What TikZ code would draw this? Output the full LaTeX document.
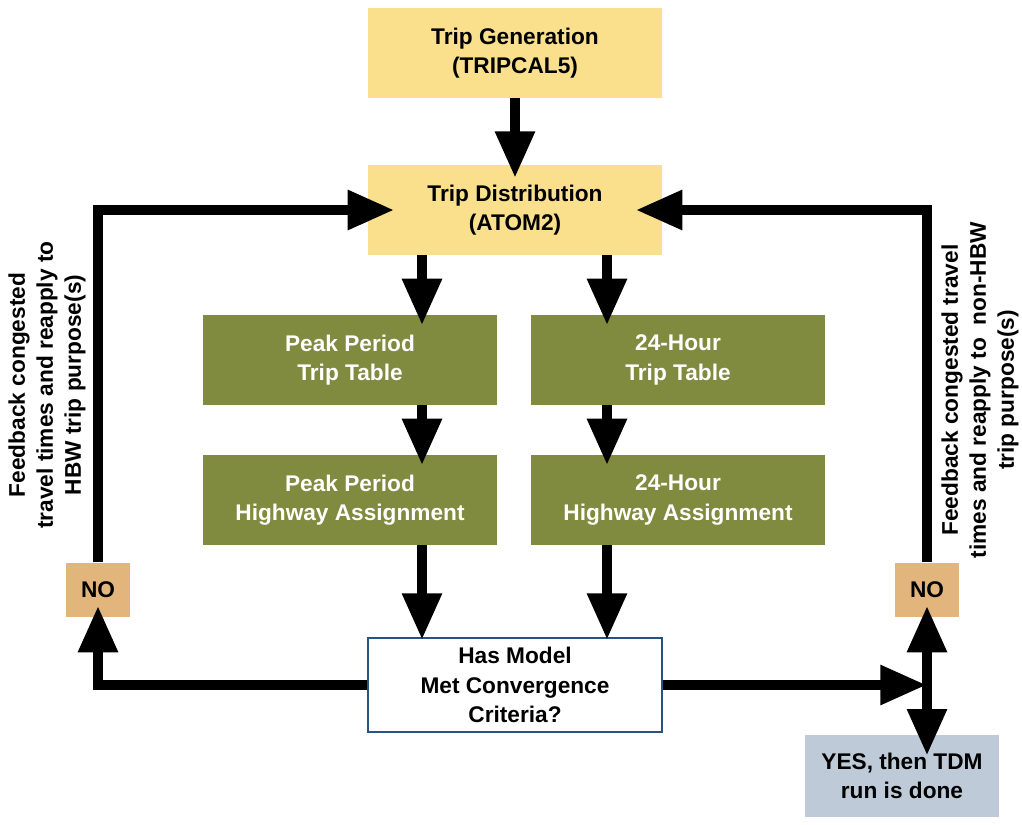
\documentclass[tikz,border=0pt]{standalone}
\usepackage{fontspec}
\setmainfont{Liberation Sans}
\usetikzlibrary{arrows.meta}
\definecolor{tdmyellow}{RGB}{250,224,140}
\definecolor{tdmgreen}{RGB}{128,139,64}
\definecolor{tdmtan}{RGB}{226,181,125}
\definecolor{tdmgrey}{RGB}{190,202,216}
\definecolor{tdmblue}{RGB}{40,82,128}

\begin{document}
\begin{tikzpicture}[x=0.75pt,y=-0.75pt,
  every node/.style={font=\bfseries\fontsize{17}{22}\selectfont,align=center,inner sep=0pt},
  stage/.style={minimum width=220.5pt,minimum height=67.5pt},
  model/.style={stage,fill=tdmyellow},
  table/.style={stage,fill=tdmgreen,text=white},
  check/.style={stage,minimum height=70pt,fill=white,draw=tdmblue,line width=1.5pt},
  nobox/.style={minimum width=48pt,minimum height=41pt,fill=tdmtan},
  yesbox/.style={minimum width=146pt,minimum height=62pt,fill=tdmgrey},
  sidenote/.style={rotate=90,font=\bfseries\fontsize{17}{21}\selectfont},
  flow/.style={line width=8pt,-{Triangle[width=28pt,length=35pt]}}]
  \useasboundingbox (0,0) rectangle (1022,825);
  \node[model] (gen) at (515,53) {Trip Generation\\(TRIPCAL5)};
  \node[model] (dist) at (515,210) {Trip Distribution\\(ATOM2)};
  \node[table] (pptt) at (350,360) {Peak Period\\Trip Table};
  \node[table] (dytt) at (678,360) {24-Hour\\Trip Table};
  \node[table] (ppha) at (350,500) {Peak Period\\Highway Assignment};
  \node[table] (dyha) at (678,500) {24-Hour\\Highway Assignment};
  \node[check] (crit) at (515,685) {Has Model\\Met Convergence\\Criteria?};
  \node[nobox] (noL) at (98,590) {NO};
  \node[nobox] (noR) at (927,590) {NO};
  \node[yesbox] (yes) at (902,776) {YES, then TDM\\run is done};
  \node[sidenote] (fbL) at (47,385) {Feedback congested\\travel times and reapply to\\HBW trip purpose(s)};
  \node[sidenote] (fbR) at (980,390) {Feedback congested travel\\times and reapply to \ non-HBW\\trip purpose(s)};
  \coordinate (lcol) at (422,0);
  \coordinate (rcol) at (607,0);
  \coordinate (junc) at (noR |- crit);
  \draw[flow,shorten >=-10pt] (gen) -- (dist);
  \draw[flow,shorten >=-8pt] (dist.south -| lcol) -- (pptt.north -| lcol);
  \draw[flow,shorten >=-8pt] (dist.south -| rcol) -- (dytt.north -| rcol);
  \draw[flow,shorten >=-8pt] (pptt.south -| lcol) -- (ppha.north -| lcol);
  \draw[flow,shorten >=-8pt] (dytt.south -| rcol) -- (dyha.north -| rcol);
  \draw[flow,shorten >=-2pt] (ppha.south -| lcol) -- (crit.north -| lcol);
  \draw[flow,shorten >=-2pt] (dyha.south -| rcol) -- (crit.north -| rcol);
  \draw[flow,shorten >=-9pt] (crit.west) -| (noL.south);
  \draw[flow,shorten >=-20pt] (noL.north) |- (dist.west);
  \draw[flow] (crit.east) -- (junc);
  \draw[flow,shorten >=-9pt] (junc) -- (noR.south);
  \draw[flow,shorten >=-16pt] (junc) -- (yes.north -| junc);
  \draw[flow,shorten >=-20pt] (noR.north) |- (dist.east);
\end{tikzpicture}
\end{document}
